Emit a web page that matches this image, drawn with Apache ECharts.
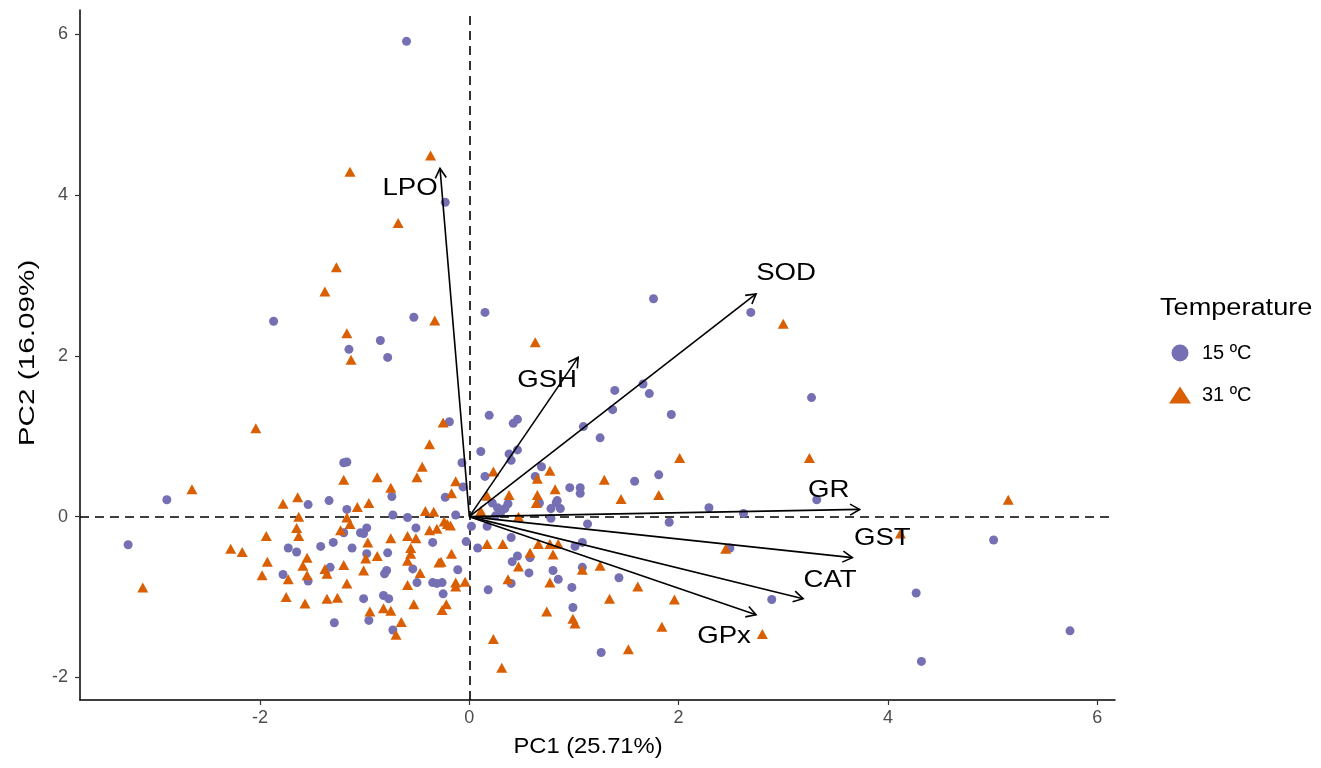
<!DOCTYPE html>
<html>
<head>
<meta charset="utf-8">
<title>PCA biplot</title>
<script src="https://cdn.jsdelivr.net/npm/echarts@6/dist/echarts.min.js"></script>
<style>
  html, body { margin: 0; padding: 0; background: #fff; }
  #chart { width: 1321px; height: 768px; }
</style>
</head>
<body>
<div id="chart"></div>
<script>
// Sample scores on PC1 / PC2, one array per temperature group
const scores15 = [
  [-0.60, 5.91], [-0.23, 3.91], [-1.87, 2.43], [-0.53, 2.48], [-0.85, 2.19],
  [-0.78, 1.98], [-1.15, 2.08], [0.15, 2.54], [1.76, 2.71], [2.69, 2.54],
  [3.27, 1.48], [1.39, 1.57], [1.66, 1.65], [1.72, 1.53], [0.19, 1.26],
  [1.93, 1.27], [1.37, 1.33], [0.42, 1.16], [0.46, 1.21], [1.09, 1.12],
  [1.25, 0.98], [0.11, 0.81], [0.38, 0.78], [0.40, 0.70], [0.46, 0.83],
  [0.15, 0.50], [0.69, 0.62], [0.63, 0.50], [0.96, 0.36], [1.06, 0.36],
  [1.06, 0.29], [1.58, 0.44], [1.81, 0.52], [0.84, 0.20], [0.37, 0.16],
  [2.29, 0.11], [3.32, 0.21], [-0.19, 1.18], [-0.07, 0.67], [-0.06, 0.37],
  [-0.23, 0.24], [0.67, 0.17], [0.22, 0.17], [0.27, 0.11], [0.30, 0.05],
  [0.34, 0.10], [0.25, 0.01], [0.78, 0.10], [0.83, 0.17], [0.87, 0.10],
  [0.78, -0.02], [-0.13, 0.02], [1.13, -0.09], [1.91, -0.07], [0.02, -0.12],
  [0.17, -0.12], [-0.03, -0.31], [0.08, -0.39], [0.40, -0.26], [1.08, -0.32],
  [1.01, -0.37], [0.46, -0.49], [0.41, -0.56], [0.58, -0.51], [0.80, -0.67],
  [0.57, -0.70], [1.08, -0.63], [1.43, -0.76], [0.85, -0.78], [0.40, -0.83],
  [0.18, -0.91], [0.98, -0.88], [0.99, -1.13], [1.26, -1.69], [-0.26, -0.82],
  [-0.25, -0.96], [-0.11, -0.66], [2.89, -1.03], [2.49, -0.39], [2.62, 0.04],
  [5.01, -0.29], [4.27, -0.95], [5.74, -1.42], [4.32, -1.80], [-2.89, 0.21],
  [-3.26, -0.35], [-1.20, 0.67], [-1.17, 0.68], [-0.74, 0.25], [-1.54, 0.15],
  [-1.34, 0.20], [-1.17, 0.09], [-0.73, 0.02], [-0.59, -0.01], [-0.51, -0.14],
  [-1.20, -0.20], [-1.04, -0.20], [-0.98, -0.14], [-1.01, -0.21], [-1.73, -0.39],
  [-1.65, -0.44], [-1.42, -0.37], [-1.30, -0.32], [-1.12, -0.39], [-0.35, -0.32],
  [-0.98, -0.46], [-0.78, -0.45], [-1.78, -0.72], [-1.54, -0.80], [-1.33, -0.63],
  [-0.81, -0.71], [-0.79, -0.67], [-0.54, -0.65], [-0.50, -0.82], [-0.35, -0.82],
  [-0.31, -0.83], [-1.01, -1.02], [-0.82, -0.98], [-0.77, -1.02], [-1.29, -1.32],
  [-0.96, -1.29], [-0.73, -1.41]
];

const scores31 = [
  [-0.37, 4.49], [-1.14, 4.29], [-0.68, 3.65], [-1.27, 3.10], [-1.38, 2.80],
  [-0.33, 2.44], [-1.17, 2.28], [-1.13, 1.95], [0.63, 2.17], [3.00, 2.40],
  [2.01, 0.73], [3.25, 0.73], [0.23, 0.56], [0.77, 0.57], [0.65, 0.47],
  [0.82, 0.34], [1.29, 0.46], [1.45, 0.22], [1.81, 0.27], [0.38, 0.27],
  [0.65, 0.27], [0.17, 0.26], [-0.25, 1.17], [-0.13, 0.44], [-0.17, 0.29],
  [0.64, 0.17], [0.47, 0.00], [-0.21, -0.09], [-0.24, -0.06], [-0.18, -0.11],
  [0.17, -0.34], [0.32, -0.34], [0.66, -0.34], [0.77, -0.34], [0.85, -0.34],
  [0.58, -0.45], [0.47, -0.62], [0.80, -0.47], [1.08, -0.66], [1.25, -0.61],
  [1.61, -0.87], [0.77, -0.82], [0.37, -0.78], [1.34, -1.02], [1.96, -1.03],
  [0.74, -1.18], [0.99, -1.27], [1.01, -1.33], [1.84, -1.37], [0.23, -1.52],
  [1.52, -1.65], [0.31, -1.88], [-0.13, -0.82], [-0.13, -0.87], [-0.04, -0.81],
  [-0.17, -0.46], [-0.27, -0.56], [-0.22, -1.09], [-0.26, -1.16], [2.80, -1.46],
  [2.45, -0.40], [5.15, 0.21], [4.12, -0.21], [-2.04, 1.10], [-2.65, 0.34],
  [-3.12, -0.88], [-0.38, 0.90], [-0.45, 0.62], [-0.50, 0.49], [-1.20, 0.46],
  [-0.88, 0.49], [-0.75, 0.36], [-1.78, 0.16], [-1.64, 0.24], [-1.07, 0.12],
  [-0.96, 0.17], [-1.63, 0.00], [-1.17, -0.01], [-1.14, -0.09], [-0.42, 0.07],
  [-0.34, 0.06], [-0.38, -0.17], [-0.31, -0.15], [-1.65, -0.14], [-1.63, -0.24],
  [-1.23, -0.17], [-1.94, -0.24], [-2.28, -0.40], [-2.17, -0.44], [-0.97, -0.32],
  [-0.75, -0.27], [-0.59, -0.24], [-0.51, -0.27], [-0.56, -0.39], [-0.56, -0.46],
  [-0.99, -0.52], [-0.88, -0.49], [-0.59, -0.55], [-0.29, -0.57], [-1.93, -0.56],
  [-1.98, -0.73], [-1.59, -0.61], [-1.55, -0.51], [-1.73, -0.78], [-1.55, -0.73],
  [-1.38, -0.65], [-1.36, -0.71], [-1.20, -0.60], [-1.01, -0.67], [-1.17, -0.83],
  [-0.59, -0.85], [-0.47, -0.70], [-1.75, -1.00], [-1.57, -1.08], [-1.36, -1.02],
  [-1.26, -1.01], [-0.95, -1.18], [-0.82, -1.14], [-0.75, -1.17], [-0.53, -1.09],
  [-0.65, -1.31], [-0.70, -1.47], [0.11, 0.07]
];

// Variable loadings (arrow tips)
const loadingNames = ['LPO', 'GSH', 'SOD', 'GR', 'GST', 'CAT', 'GPx'];
const loadingPC1 = [-0.28, 1.04, 2.74, 3.73, 3.66, 3.19, 2.74];
const loadingPC2 = [4.33, 1.98, 2.77, 0.09, -0.51, -1.02, -1.22];

// Axis tick values
const xTicks = [-2, 0, 2, 4, 6];
const yTicks = [-2, 0, 2, 4, 6];

const groupNames = ['15 ºC', '31 ºC'];
const groupColors = ['#7570B3', '#D95F02'];

const FONT = '"Liberation Sans", Arial, Helvetica, sans-serif';

// Pixel offsets of each arrow label from its arrow tip
const labelNudge = {
  LPO: [-30, 20], GSH: [-31, 23], SOD: [30, -21], GR: [-31, -19],
  GST: [30, -19], CAT: [27, -18], GPx: [-32, 22]
};

const arrowData = loadingNames.map((n, i) => [loadingPC1[i], loadingPC2[i]]);

function renderArrow(params, api) {
  const name = loadingNames[params.dataIndex];
  const o = api.coord([0, 0]);
  const t = api.coord([api.value(0), api.value(1)]);
  const ang = Math.atan2(t[1] - o[1], t[0] - o[0]);
  const L = 11, a = Math.PI / 6;
  const p1 = [t[0] - L * Math.cos(ang - a), t[1] - L * Math.sin(ang - a)];
  const p2 = [t[0] - L * Math.cos(ang + a), t[1] - L * Math.sin(ang + a)];
  const nd = labelNudge[name] || [0, 0];
  return {
    type: 'group',
    children: [
      { type: 'line', shape: { x1: o[0], y1: o[1], x2: t[0], y2: t[1] },
        style: { stroke: '#000', lineWidth: 1.6 } },
      { type: 'polyline', shape: { points: [p1, t, p2] },
        style: { stroke: '#000', lineWidth: 1.6, fill: null } },
      { type: 'text', x: t[0] + nd[0], y: t[1] + nd[1], scaleX: 1.15,
        style: { text: name, fontSize: 24, fontFamily: FONT, fill: '#000',
                 align: 'center', verticalAlign: 'middle' } }
    ]
  };
}

const chart = echarts.init(document.getElementById('chart'), null, { renderer: 'canvas' });

const axisCommon = {
  type: 'value',
  splitLine: { show: false },
  axisLine: { show: true, onZero: false, lineStyle: { color: '#000', width: 1.5 } },
  axisTick: { show: true, length: 5, lineStyle: { color: '#333', width: 1.2 } },
  axisLabel: { color: '#4D4D4D', fontSize: 18, fontFamily: FONT }
};

chart.setOption({
  animation: false,
  backgroundColor: '#fff',
  textStyle: { fontFamily: FONT },
  legend: {
    orient: 'vertical',
    left: 1164, top: 338,
    itemWidth: 22, itemHeight: 17, itemGap: 22,
    textStyle: { fontSize: 20, color: '#000', fontFamily: FONT, padding: [0, 0, 0, 6] },
    data: [
      { name: groupNames[0], icon: 'circle' },
      { name: groupNames[1], icon: 'path://M0,17L11,0L22,17Z' }
    ]
  },
  graphic: [
    { type: 'text', x: 1160, y: 309, scaleX: 1.18,
      style: { text: 'Temperature', fontSize: 23, fontFamily: FONT, fill: '#000',
               align: 'left', verticalAlign: 'middle' } },
    { type: 'text', x: 588, y: 747, scaleX: 1.08,
      style: { text: 'PC1 (25.71%)', fontSize: 22, fontFamily: FONT, fill: '#000',
               align: 'center', verticalAlign: 'middle' } },
    { type: 'text', x: 28, y: 353, rotation: Math.PI / 2, scaleX: 1.35,
      style: { text: 'PC2 (16.09%)', fontSize: 22, fontFamily: FONT, fill: '#000',
               align: 'center', verticalAlign: 'middle' } }
  ],
  grid: { left: 80, right: 206, top: 10, bottom: 68, outerBoundsMode: 'none', containLabel: false },
  xAxis: Object.assign({}, axisCommon, {
    min: -3.72, max: 6.17,
    axisTick: Object.assign({}, axisCommon.axisTick, { customValues: xTicks }),
    axisLabel: Object.assign({}, axisCommon.axisLabel, { customValues: xTicks, margin: 9 })
  }),
  yAxis: Object.assign({}, axisCommon, {
    min: -2.28, max: 6.3,
    axisTick: Object.assign({}, axisCommon.axisTick, { customValues: yTicks }),
    axisLabel: Object.assign({}, axisCommon.axisLabel, { customValues: yTicks, margin: 12 })
  }),
  series: [
    {
      name: groupNames[0],
      type: 'scatter',
      symbol: 'circle',
      symbolSize: 9,
      itemStyle: { color: groupColors[0], opacity: 1 },
      data: scores15,
      z: 3,
      markLine: {
        silent: true,
        symbol: 'none',
        label: { show: false },
        lineStyle: { color: '#000', type: [9, 6], width: 1.6 },
        data: [{ xAxis: 0 }, { yAxis: 0 }],
        z: 1
      }
    },
    {
      name: groupNames[1],
      type: 'scatter',
      symbol: 'triangle',
      symbolSize: [11, 10],
      itemStyle: { color: groupColors[1], opacity: 1 },
      data: scores31,
      z: 3
    },
    {
      name: 'loadings',
      type: 'custom',
      renderItem: renderArrow,
      data: arrowData,
      clip: false,
      silent: true,
      z: 5
    }
  ]
});
</script>
</body>
</html>
